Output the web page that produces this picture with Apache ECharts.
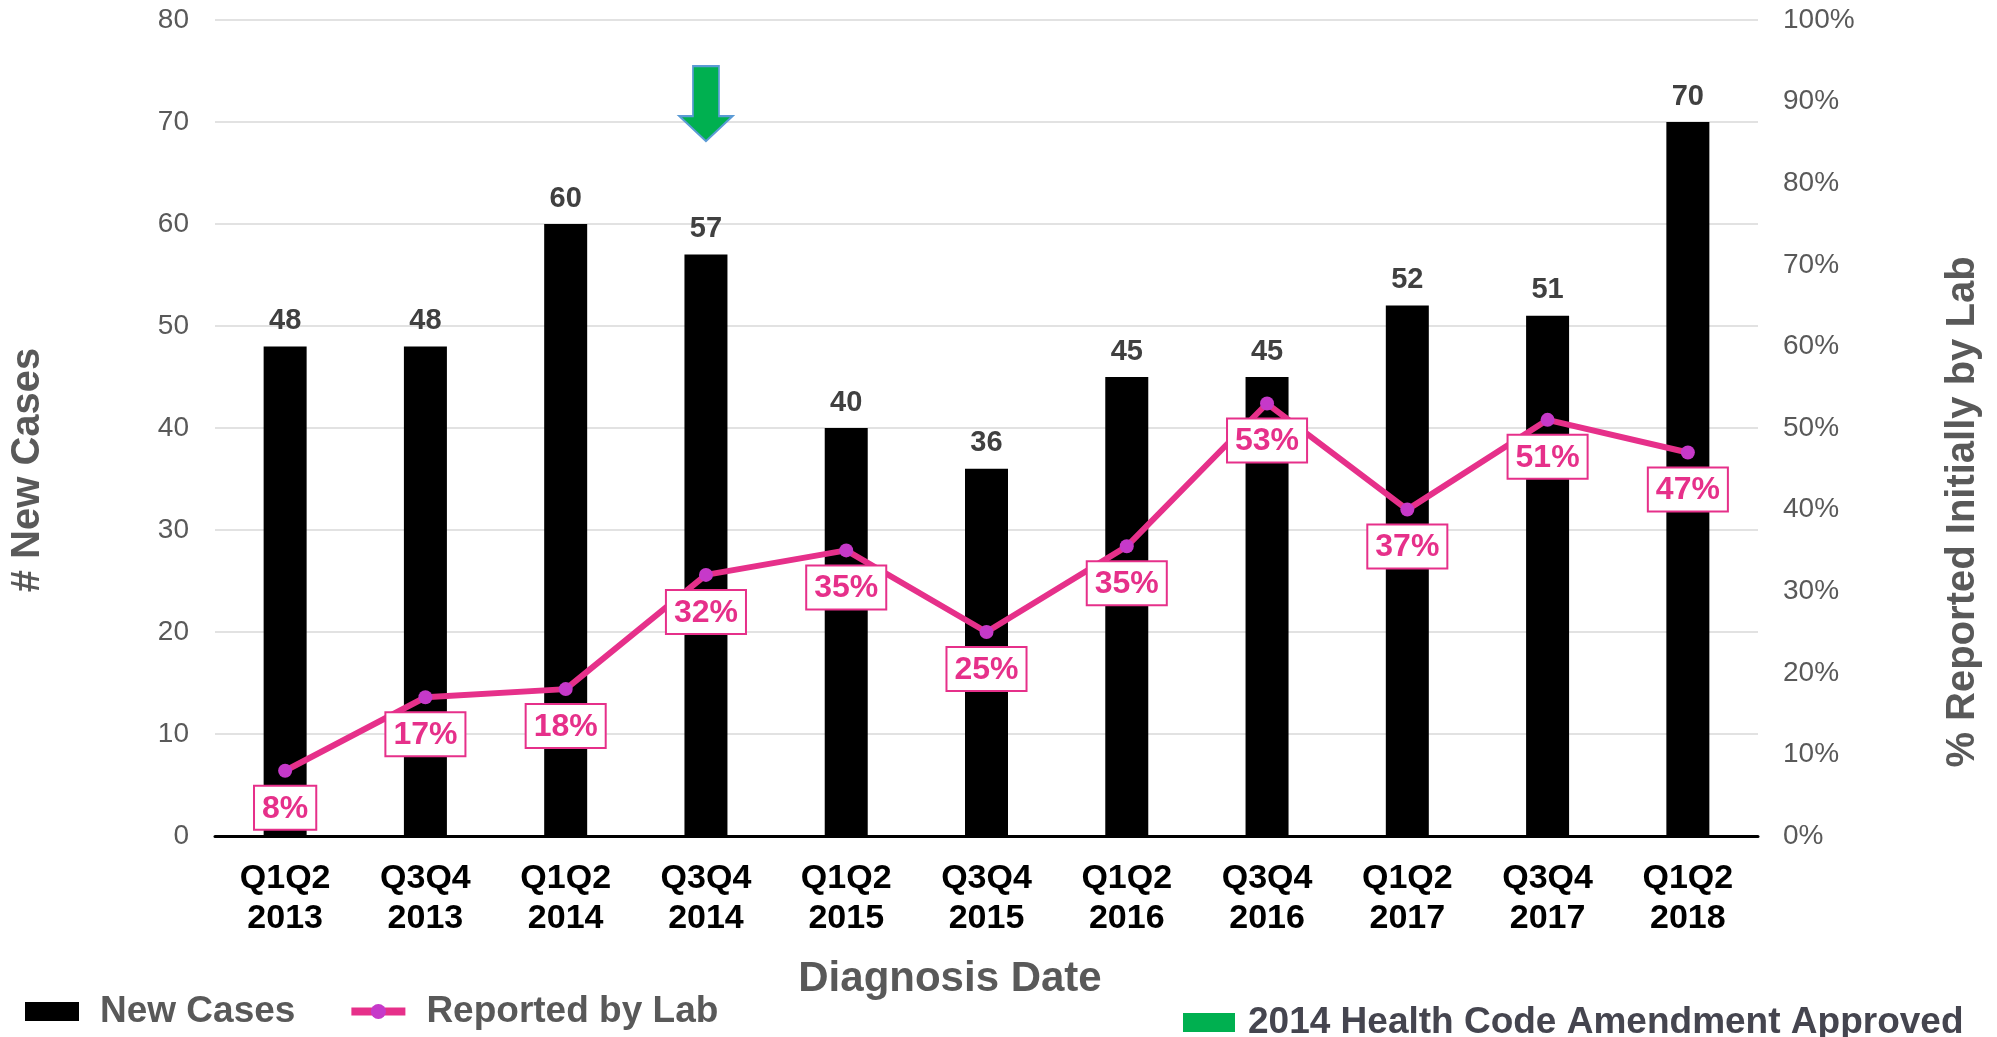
<!DOCTYPE html>
<html>
<head>
<meta charset="utf-8">
<script src="https://cdn.jsdelivr.net/npm/echarts@6/dist/echarts.min.js"></script>
<style>
  html, body { margin: 0; padding: 0; background: #fff; }
  #chart { width: 1997px; height: 1037px; }
</style>
</head>
<body>
<div id="chart"></div>
<script>
// values
const categories = ['Q1Q2\n2013', 'Q3Q4\n2013', 'Q1Q2\n2014', 'Q3Q4\n2014', 'Q1Q2\n2015', 'Q3Q4\n2015',
  'Q1Q2\n2016', 'Q3Q4\n2016', 'Q1Q2\n2017', 'Q3Q4\n2017', 'Q1Q2\n2018']
const newCases = [48, 48, 60, 57, 40, 36, 45, 45, 52, 51, 70]
const labPct = [8, 17, 18, 32, 35, 25, 35.5, 53, 40, 51, 47]
const labPctText = ['8%', '17%', '18%', '32%', '35%', '25%', '35%', '53%', '37%', '51%', '47%']
const arrowCategory = ['Q3Q4\n2014']
const arrowValue = [71.8]

const font = 'Liberation Sans, Arial, sans-serif'
const grey = '#595959'
const pink = '#e6308a'

const chart = echarts.init(document.getElementById('chart'))
const option = {
  textStyle: { fontFamily: font },
  animation: false,
  grid: {
    left: 215,
    right: 239,
    top: 20,
    bottom: 201
  },
  legend: [
    {
      data: [
        { name: 'New Cases', icon: 'rect' },
        { name: 'Reported by Lab', lineStyle: { width: 8, color: pink } }
      ],
      left: 20,
      top: 988,
      itemWidth: 54,
      itemHeight: 19,
      itemGap: 52,
      textStyle: { fontSize: 37, fontWeight: 'bold', color: grey, padding: [0, 0, 0, 16] }
    },
    {
      data: [{ name: '2014 Health Code Amendment Approved', icon: 'rect', itemStyle: { borderWidth: 0 } }],
      left: 1178,
      top: 999,
      itemWidth: 52,
      itemHeight: 19,
      textStyle: { fontSize: 37, fontWeight: 'bold', color: '#45454f', padding: [0, 0, 0, 8] }
    }
  ],
  xAxis: {
    type: 'category',
    data: categories,
    axisLine: { lineStyle: { color: '#000', width: 3 } },
    axisTick: { show: false },
    axisLabel: {
      interval: 0,
      margin: 23,
      color: '#000',
      fontSize: 34,
      fontWeight: 'bold',
      lineHeight: 40
    }
  },
  yAxis: [
    {
      type: 'value',
      min: 0,
      max: 80,
      interval: 10,
      axisLine: { show: false },
      axisTick: { show: false },
      axisLabel: { margin: 26, color: grey, fontSize: 28 },
      splitLine: { lineStyle: { color: '#d9d9d9', width: 1.5 } }
    },
    {
      type: 'value',
      min: 0,
      max: 100,
      interval: 10,
      axisLine: { show: false },
      axisTick: { show: false },
      axisLabel: { margin: 25, color: grey, fontSize: 28, formatter: '{value}%' },
      splitLine: { show: false }
    }
  ],
  graphic: [
    {
      type: 'text',
      x: 28,
      y: 470,
      rotation: Math.PI / 2,
      style: { text: '# New Cases', font: 'bold 40px ' + font, fill: grey, align: 'center', verticalAlign: 'middle' }
    },
    {
      type: 'text',
      x: 1963,
      y: 512,
      rotation: Math.PI / 2,
      style: { text: '% Reported Initially by Lab', font: 'bold 40px ' + font, fill: grey, align: 'center', verticalAlign: 'middle' }
    },
    {
      type: 'text',
      x: 950,
      y: 979,
      style: { text: 'Diagnosis Date', font: 'bold 42px ' + font, fill: grey, align: 'center', verticalAlign: 'middle' }
    }
  ],
  series: [
    {
      name: 'New Cases',
      type: 'bar',
      data: newCases,
      barWidth: 43,
      itemStyle: { color: '#000' },
      label: {
        show: true,
        position: 'top',
        distance: 11,
        color: '#404040',
        fontSize: 29,
        fontWeight: 'bold'
      }
    },
    {
      name: 'Reported by Lab',
      type: 'line',
      yAxisIndex: 1,
      data: labPct,
      symbol: 'circle',
      symbolSize: 14,
      itemStyle: { color: '#c639c9' },
      lineStyle: { color: pink, width: 6 },
      label: {
        show: true,
        position: 'bottom',
        distance: 9,
        formatter: (p) => labPctText[p.dataIndex],
        color: pink,
        fontSize: 32,
        fontWeight: 'bold',
        backgroundColor: '#fff',
        borderColor: pink,
        borderWidth: 2,
        padding: [6, 7, 4, 7]
      },
      z: 3
    },
    {
      name: '2014 Health Code Amendment Approved',
      type: 'scatter',
      data: arrowCategory.map((c, i) => [c, arrowValue[i]]),
      symbol: 'path://M13.5,0L39.5,0L39.5,50L53,50L26.5,75L0,50L13.5,50Z',
      symbolSize: [53, 75],
      itemStyle: { color: '#00b050', borderColor: '#5b9bd5', borderWidth: 2, opacity: 1 },
      silent: true,
      z: 4
    }
  ]
}
chart.setOption(option)
</script>
</body>
</html>
